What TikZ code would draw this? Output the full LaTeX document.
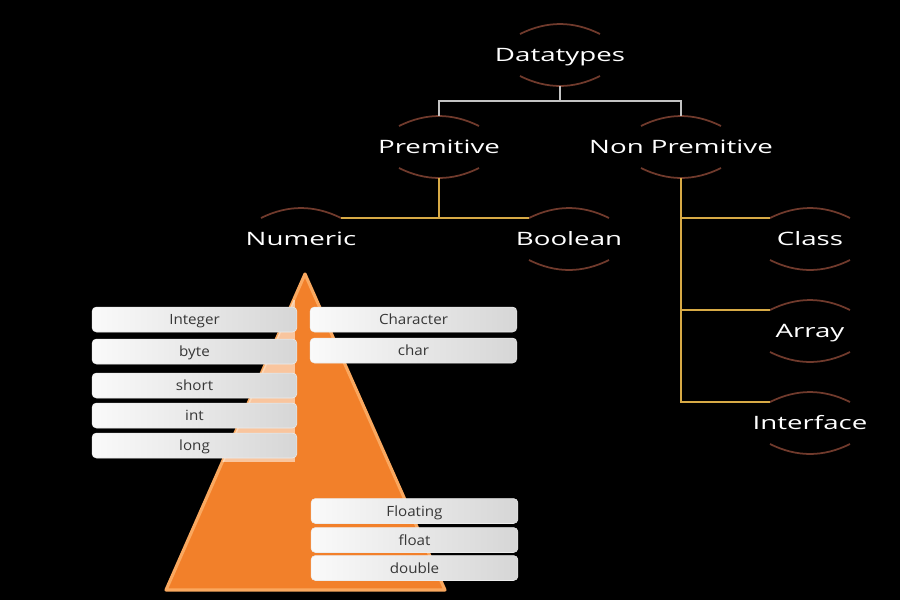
\documentclass[tikz,border=0pt]{standalone}
\usepackage{fontspec}
\setmainfont{Open Sans}
\usetikzlibrary{calc}
\definecolor{ringcol}{RGB}{112,58,44}
\definecolor{topline}{RGB}{195,195,195}
\definecolor{goldline}{RGB}{215,170,70}
\definecolor{tri}{RGB}{242,128,42}
\definecolor{triedge}{RGB}{250,168,95}
\definecolor{boxl}{RGB}{250,250,250}
\definecolor{boxr}{RGB}{214,214,214}
\definecolor{boxtxt}{RGB}{55,55,55}
\newcommand\widebig[1]{\scalebox{1.5}[1]{#1}}
\newcommand\widesmall[1]{\scalebox{1.08}[1]{#1}}
\tikzset{
  lbl/.style={text=white, font=\fontsize{10.5}{12}\selectfont, inner sep=0pt,
    minimum height=1.24cm, text height=7.5pt, text depth=0pt},
  ringarc/.style={draw=ringcol, line width=1pt},
  grayconn/.style={draw=topline, line width=0.7pt},
  goldconn/.style={draw=goldline, line width=0.9pt},
  tbox/.style={rounded corners=2.5pt, left color=boxl, right color=boxr,
    draw=white!85!gray, line width=0.3pt, text=boxtxt,
    font=\fontsize{8}{9}\selectfont, minimum height=0.5cm, inner sep=0pt,
    text height=5.7pt, text depth=0pt},
  lbox/.style={tbox, minimum width=4.1cm},
  rbox/.style={tbox, minimum width=4.14cm}
}
\begin{document}
\begin{tikzpicture}[x=0.02cm,y=-0.02cm]
\fill[black] (0,0) rectangle (900,600);
\useasboundingbox (0,0) rectangle (900,600);

% triangle
\coordinate (tA) at (305,274);
\coordinate (tL) at (166,590);
\coordinate (tR) at (445,590);
\fill[tri] (tA) -- (tR) -- (tL) -- cycle;
\draw[triedge, line width=1.8pt, line join=round] (tA) -- (tR) -- (tL) -- cycle;
\begin{scope}
  \clip (tA) -- (tR) -- (tL) -- cycle;
  \fill[white, opacity=0.55] (150,300) rectangle (295,462);
\end{scope}

% labels
\node[lbl] (dt) at (560,55) {\widebig{Datatypes}};
\node[lbl] (pr) at (439,147) {\widebig{Premitive}};
\node[lbl] (np) at (681,147) {\widebig{Non Premitive}};
\node[lbl] (nu) at (301,239) {\widebig{Numeric}};
\node[lbl] (bo) at (569,239) {\widebig{Boolean}};
\node[lbl] (cl) at (810,239) {\widebig{Class}};
\node[lbl] (ar) at (810,331) {\widebig{Array}};
\node[lbl] (in) at (810,423) {\widebig{Interface}};

% ring arcs
\foreach \n in {dt,pr,np,bo,cl,ar,in}{
  \draw[ringarc] ($(\n)+(-40,-21)$) .. controls ($(\n)+(-13.3,-34.3)$) and ($(\n)+(13.3,-34.3)$) .. ($(\n)+(40,-21)$);
  \draw[ringarc] ($(\n)+(-40,21)$) .. controls ($(\n)+(-13.3,34.3)$) and ($(\n)+(13.3,34.3)$) .. ($(\n)+(40,21)$);
}
\draw[ringarc] ($(nu)+(-40,-21)$) .. controls ($(nu)+(-13.3,-34.3)$) and ($(nu)+(13.3,-34.3)$) .. ($(nu)+(40,-21)$);

% connectors
\coordinate (j1) at ($(dt.south)!0.5!(dt.south|-pr.north)$);
\draw[grayconn] (dt.south) -- (j1);
\draw[grayconn] (pr.north) |- (j1) -| (np.north);

\coordinate (nuR) at ($(nu)+(40,-21)$);
\coordinate (boL) at ($(bo)+(-40,-21)$);
\coordinate (clL) at ($(cl)+(-40,-21)$);
\coordinate (arL) at ($(ar)+(-40,-21)$);
\coordinate (inL) at ($(in)+(-40,-21)$);
\draw[goldconn] (pr.south) |- (nuR);
\draw[goldconn] (pr.south) |- (boL);
\draw[goldconn] (np.south) |- (clL);
\draw[goldconn] (np.south) |- (arL);
\draw[goldconn] (np.south) |- (inL);

% boxes
\node[lbox] (b1) at (194.5,319.5) {\widesmall{Integer}};
\node[lbox] (b2) at (194.5,351.5) {\widesmall{byte}};
\node[lbox] (b3) at (194.5,385.5) {\widesmall{short}};
\node[lbox] (b4) at (194.5,415.5) {\widesmall{int}};
\node[lbox] (b5) at (194.5,445.5) {\widesmall{long}};
\node[rbox] (c1) at (413.5,319.5) {\widesmall{Character}};
\node[rbox] (c2) at (413.5,350.5) {\widesmall{char}};
\node[rbox] (f1) at (414.5,511) {\widesmall{Floating}};
\node[rbox] (f2) at (414.5,540) {\widesmall{float}};
\node[rbox] (f3) at (414.5,568) {\widesmall{double}};
\end{tikzpicture}
\end{document}
